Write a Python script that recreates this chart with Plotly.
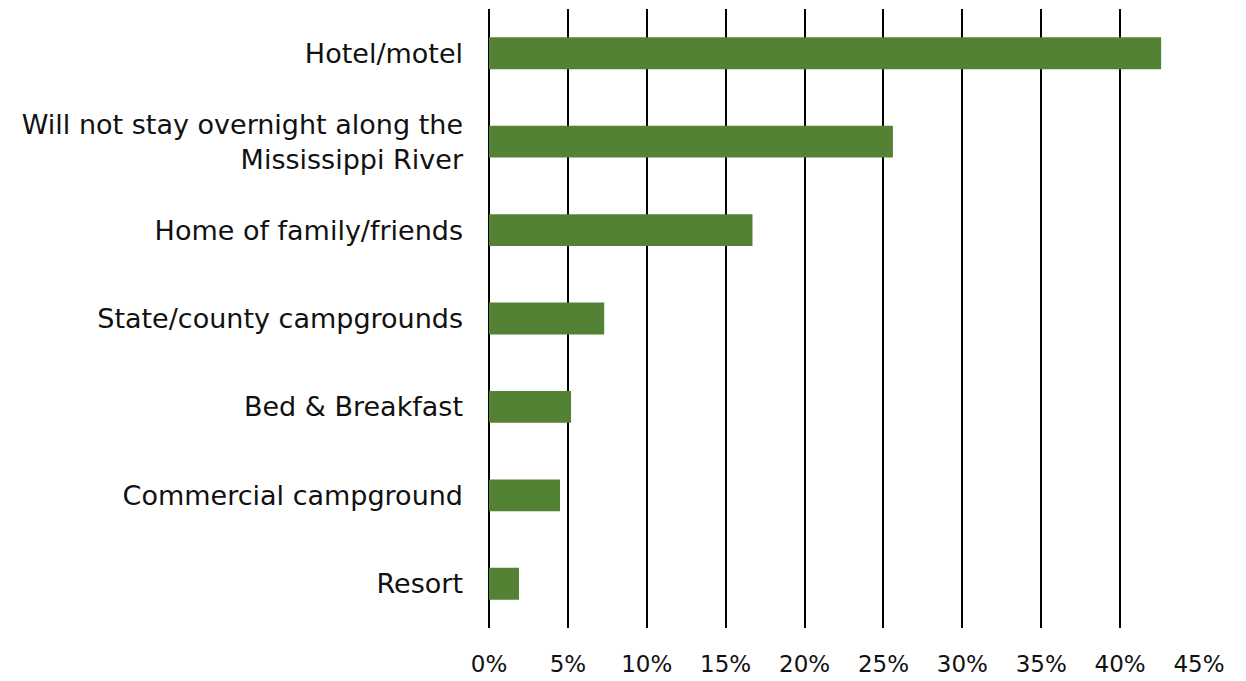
import plotly.graph_objects as go

# categories listed bottom-to-top so the largest sits on top
categories = [
    "Resort",
    "Commercial campground",
    "Bed & Breakfast",
    "State/county campgrounds",
    "Home of family/friends",
    "Will not stay overnight along the<br>Mississippi River",
    "Hotel/motel",
]
shares = [1.9, 4.5, 5.2, 7.3, 16.7, 25.6, 42.6]
tick_vals = [0, 5, 10, 15, 20, 25, 30, 35, 40, 45]
tick_text = [f"{v}%" for v in tick_vals]

FONT = "DejaVu Sans"

fig = go.Figure()
fig.add_bar(
    y=categories, x=shares, orientation="h",
    marker_color="#548235", marker_line_width=0,
    showlegend=False,
)

# the page body adds an 8px offset, margins compensate for it
fig.update_layout(
    width=1246, height=681,
    margin=dict(l=481, r=55, t=1, b=61, autoexpand=False),
    paper_bgcolor="white", plot_bgcolor="white",
    bargap=0.64,
    font=dict(family=FONT, size=21, color="#111111"),
    xaxis=dict(
        range=[0, 45], tickvals=tick_vals, ticktext=tick_text,
        showgrid=True, gridcolor="black", gridwidth=2,
        zeroline=True, zerolinecolor="black", zerolinewidth=2,
        showline=False, ticks="", automargin=False,
        tickfont=dict(size=23), ticklabelstandoff=20,
    ),
    yaxis=dict(
        showgrid=False, zeroline=False, showline=False, ticks="",
        automargin=False, tickfont=dict(size=27), ticklabelstandoff=25,
    ),
)

fig.write_html("out.html")
